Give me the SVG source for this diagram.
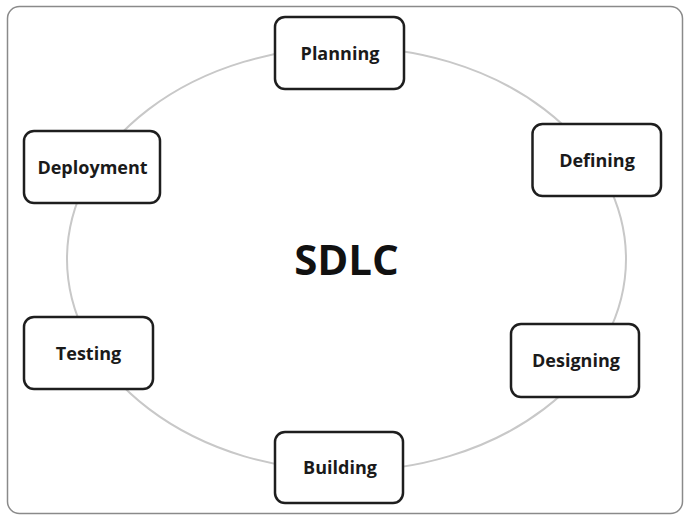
<svg xmlns="http://www.w3.org/2000/svg" width="689" height="518" viewBox="0 0 689 518">
<style>
.node rect{fill:#fff;stroke:#1e1e1e;stroke-width:2.5}
.node text{font-family:"Open Sans","Liberation Sans",sans-serif;font-weight:bold;font-size:18px;fill:#1a1a1a;text-anchor:middle}
.ring{fill:none;stroke:#c8c8c8;stroke-width:2}
</style>
<rect x="0" y="0" width="689" height="518" fill="#fff"/>
<rect x="7.5" y="6.5" width="675" height="507" rx="12" fill="#fff" stroke="#8a8a8a" stroke-width="1.5"/>
<g id="connectors">
<ellipse class="ring" cx="346.5" cy="259" rx="279.5" ry="212"/>
</g>
<g id="planning" class="node"><rect x="275" y="17" width="129" height="72" rx="10"/><text x="340" y="60">Planning</text></g>
<g id="defining" class="node"><rect x="532.5" y="124" width="128.5" height="72" rx="10"/><text x="597" y="167">Defining</text></g>
<g id="designing" class="node"><rect x="511" y="324" width="128" height="73" rx="10"/><text x="576" y="367">Designing</text></g>
<g id="building" class="node"><rect x="275" y="432" width="128" height="71" rx="10"/><text x="340" y="474">Building</text></g>
<g id="testing" class="node"><rect x="24" y="317" width="129" height="72" rx="10"/><text x="88.5" y="360">Testing</text></g>
<g id="deployment" class="node"><rect x="24" y="131" width="136" height="72" rx="10"/><text x="92.5" y="174">Deployment</text></g>
<g id="sdlc"><text x="346.5" y="275" font-family="'Open Sans','Liberation Sans',sans-serif" font-weight="bold" font-size="42" fill="#111" text-anchor="middle">SDLC</text></g>
</svg>
